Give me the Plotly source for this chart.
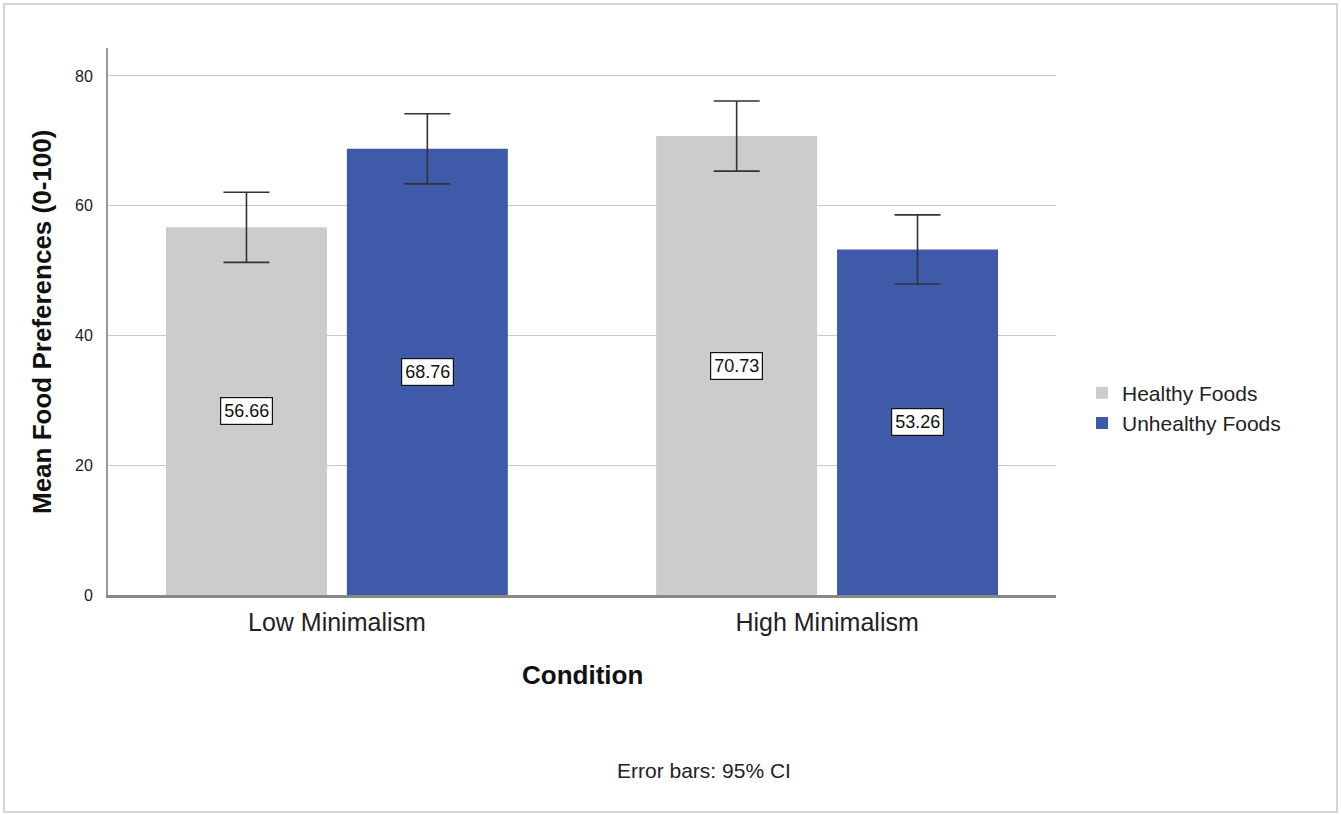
import plotly.graph_objects as go

categories = ["Low Minimalism", "High Minimalism"]
healthy = [56.66, 70.73]
unhealthy = [68.76, 53.26]
healthy_ci = [5.40, 5.40]
unhealthy_ci = [5.40, 5.32]
series_names = ["Healthy Foods", "Unhealthy Foods"]
y_ticks = [0, 20, 40, 60, 80]

W, H = 1341, 815
L, R, T, B = 108, 1056, 48, 595
FONT = "Liberation Sans, Arial, sans-serif"

fig = go.Figure()
err_style = dict(type="data", visible=True, color="#333333", thickness=1.6, width=23)
fig.add_trace(go.Bar(name=series_names[0], x=categories, y=healthy,
                     marker=dict(color="#cccccc", line=dict(width=0)),
                     error_y=dict(array=healthy_ci, **err_style)))
fig.add_trace(go.Bar(name=series_names[1], x=categories, y=unhealthy,
                     marker=dict(color="#3f5aa9", line=dict(width=0)),
                     error_y=dict(array=unhealthy_ci, **err_style)))

# value labels at bar mid-heights
annotations = []
for ci, cat in enumerate(categories):
    for si, vals in enumerate([healthy, unhealthy]):
        off = -0.185 if si == 0 else 0.185
        annotations.append(dict(x=ci + off, y=vals[ci] / 2, xref="x", yref="y",
                                text=f"{vals[ci]:.2f}", showarrow=False,
                                font=dict(family=FONT, size=18, color="#111111"),
                                bgcolor="white", bordercolor="#111111", borderwidth=1.2,
                                borderpad=3))

pw = R - L
ph = B - T
def px_x(p):
    return (p - L) / pw
def px_y(p):
    return (B - p) / ph

annotations.append(dict(x=px_x(42), y=px_y(322), xref="paper", yref="paper",
                        xanchor="center", yanchor="middle",
                        text="<b>Mean Food Preferences (0-100)</b>", textangle=-90,
                        showarrow=False, font=dict(family=FONT, size=26, color="#111111")))
annotations.append(dict(x=px_x(582), y=px_y(675), xref="paper", yref="paper",
                        xanchor="center", yanchor="middle",
                        text="<b>Condition</b>", showarrow=False,
                        font=dict(family=FONT, size=26, color="#111111")))
annotations.append(dict(x=px_x(704), y=px_y(770), xref="paper", yref="paper",
                        xanchor="center", yanchor="middle",
                        text="Error bars: 95% CI", showarrow=False,
                        font=dict(family=FONT, size=21, color="#222222")))

shapes = [dict(type="rect", xref="paper", yref="paper",
               x0=px_x(4), x1=px_x(1337), y0=px_y(812), y1=px_y(4),
               line=dict(color="#d4d4d4", width=2), fillcolor="rgba(0,0,0,0)", layer="below")]

fig.update_layout(
    width=W, height=H,
    margin=dict(l=L, r=W - R, t=T, b=H - B, pad=0),
    paper_bgcolor="white", plot_bgcolor="white",
    barmode="group", bargap=0.262, bargroupgap=0.11,
    font=dict(family=FONT, color="#222222"),
    xaxis=dict(range=[-0.467, 1.467], showgrid=False, showline=True,
               linecolor="#888888", linewidth=3, ticks="", tickfont=dict(size=25, color="#222222"),
               ticklabelstandoff=3),
    yaxis=dict(range=[0, 84.3], tickvals=y_ticks, showgrid=True, gridcolor="#c8c8c8", gridwidth=1.2,
               showline=True, linecolor="#999999", linewidth=2, zeroline=False, ticks="",
               tickfont=dict(size=16, color="#222222"), ticklabelstandoff=10),
    legend=dict(x=px_x(1082), y=px_y(408), xanchor="left", yanchor="middle",
                font=dict(family=FONT, size=21, color="#222222"), tracegroupgap=0,
                itemwidth=30, bgcolor="rgba(0,0,0,0)"),
    annotations=annotations, shapes=shapes,
)

fig.write_html("out.html", config={"displayModeBar": False},
               post_script="document.body.style.margin='0';document.body.style.padding='0';")
